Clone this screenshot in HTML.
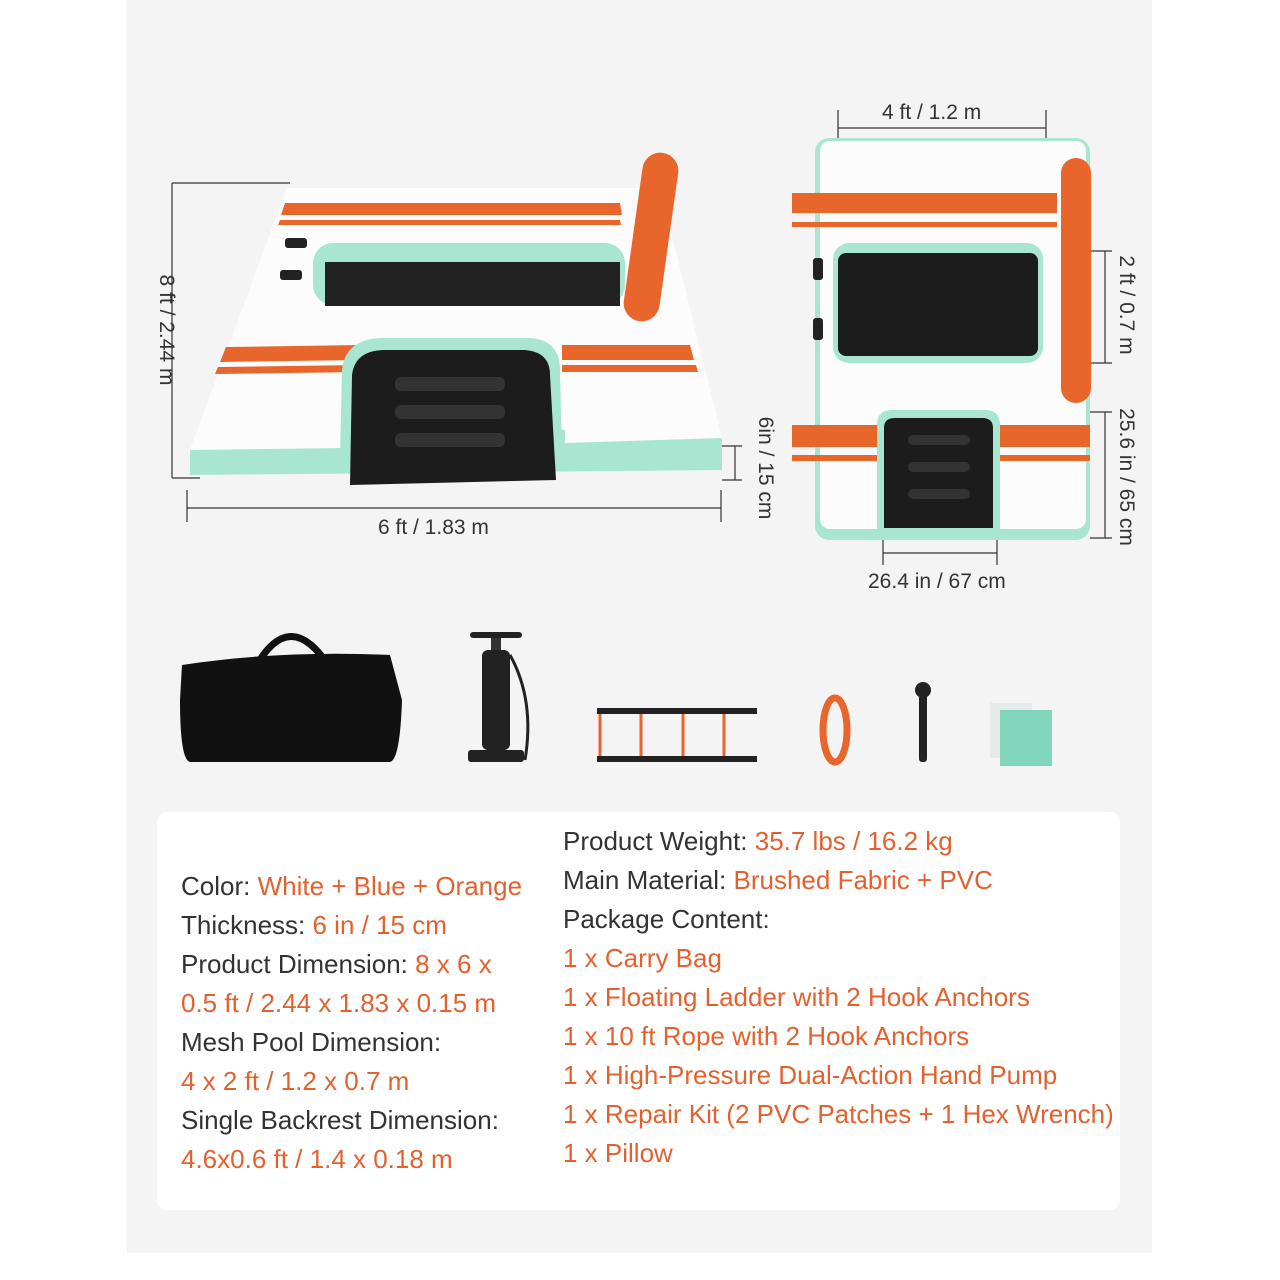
<!DOCTYPE html>
<html><head><meta charset="utf-8"><style>
body{margin:0;width:1280px;height:1280px;background:#fff;position:relative;overflow:hidden;font-family:"Liberation Sans",sans-serif}
.panel{position:absolute;left:127px;top:0;width:1025px;height:1253px;background:#f4f4f4}
svg{position:absolute;left:0;top:0}
.box{position:absolute;left:157px;top:812px;width:963px;height:398px;background:#fff;border-radius:10px}
.t{position:absolute;font-size:26px;color:#333;white-space:nowrap;letter-spacing:0;font-weight:500}
.o{color:#e2622f}
</style></head><body>
<div class="panel"></div>
<svg width="1280" height="1280" viewBox="0 0 1280 1280">
<g stroke="#333" stroke-width="1.2" fill="none">
<line x1="172" y1="183" x2="290" y2="183"/><line x1="172" y1="478" x2="200" y2="478"/>
<line x1="172" y1="183" x2="172" y2="478"/>
<line x1="187" y1="490" x2="187" y2="522"/><line x1="721" y1="490" x2="721" y2="522"/>
<line x1="187" y1="508" x2="721" y2="508"/>
<line x1="722" y1="446" x2="742" y2="446"/><line x1="722" y1="480" x2="742" y2="480"/><line x1="735" y1="446" x2="735" y2="480"/>
<line x1="838" y1="110" x2="838" y2="220"/><line x1="1046" y1="110" x2="1046" y2="220"/><line x1="838" y1="128" x2="1046" y2="128"/>
<line x1="1090" y1="251" x2="1112" y2="251"/><line x1="1090" y1="363" x2="1112" y2="363"/><line x1="1105" y1="251" x2="1105" y2="363"/>
<line x1="1090" y1="412" x2="1112" y2="412"/><line x1="1090" y1="538" x2="1112" y2="538"/><line x1="1105" y1="412" x2="1105" y2="538"/>
<line x1="883" y1="525" x2="883" y2="565"/><line x1="997" y1="525" x2="997" y2="565"/><line x1="883" y1="553" x2="997" y2="553"/>
</g>
<!-- left platform -->
<polygon points="190,452 287,190 660,190 722,440 722,470 190,475" fill="#a8e6d2"/>
<polygon points="190,450 287,188 660,188 722,438 565,443 565,430 350,430 345,448" fill="#fcfcfc"/>
<polygon points="285,203 620,203 622,215 281,215" fill="#e8652c"/>
<polygon points="280,220 620,220 621,225 278,225" fill="#e8652c"/>
<polygon points="226,347 360,345 360,360 220,362" fill="#e8652c"/>
<polygon points="218,367 360,365 360,372 215,374" fill="#e8652c"/>
<polygon points="562,345 690,345 694,360 562,360" fill="#e8652c"/>
<polygon points="562,365 696,365 698,372 562,372" fill="#e8652c"/>
<rect x="313" y="243" width="312" height="62" rx="20" fill="#a8e6d2"/>
<rect x="325" y="262" width="295" height="44" fill="#222"/>
<path d="M340,455 L342,370 Q345,340 380,338 L530,338 Q560,340 560,370 L562,455 Z" fill="#a8e6d2"/>
<path d="M350,485 L352,375 Q355,350 385,350 L525,350 Q550,352 550,375 L556,480 Z" fill="#1c1c1c"/>
<rect x="395" y="377" width="110" height="14" rx="6" fill="#333"/><rect x="395" y="405" width="110" height="14" rx="6" fill="#333"/><rect x="395" y="433" width="110" height="14" rx="6" fill="#333"/>
<rect x="633" y="152" width="36" height="170" rx="18" fill="#e8652c" transform="rotate(8 651 237)"/>
<rect x="285" y="238" width="22" height="10" rx="3" fill="#222"/><rect x="280" y="270" width="22" height="10" rx="3" fill="#222"/>
<!-- right platform -->
<rect x="815" y="138" width="275" height="402" rx="14" fill="#a8e6d2"/>
<rect x="820" y="141" width="266" height="388" rx="10" fill="#fcfcfc"/>
<rect x="792" y="193" width="265" height="20" fill="#e8652c"/><rect x="792" y="222" width="265" height="5" fill="#e8652c"/>
<rect x="833" y="243" width="210" height="120" rx="16" fill="#a8e6d2"/>
<rect x="838" y="253" width="200" height="103" rx="8" fill="#1c1c1c"/>
<rect x="792" y="425" width="88" height="22" fill="#e8652c"/><rect x="792" y="455" width="88" height="6" fill="#e8652c"/>
<rect x="1000" y="425" width="90" height="22" fill="#e8652c"/><rect x="1000" y="455" width="90" height="6" fill="#e8652c"/>
<path d="M877,530 L877,425 Q877,410 892,410 L985,410 Q1000,410 1000,425 L1000,530 Z" fill="#a8e6d2"/>
<path d="M884,528 L884,428 Q884,418 895,418 L982,418 Q993,418 993,428 L993,528 Z" fill="#1c1c1c"/>
<rect x="908" y="435" width="62" height="10" rx="5" fill="#333"/><rect x="908" y="462" width="62" height="10" rx="5" fill="#333"/><rect x="908" y="489" width="62" height="10" rx="5" fill="#333"/>
<rect x="1061" y="158" width="30" height="245" rx="15" fill="#e8652c"/>
<rect x="813" y="258" width="10" height="22" rx="3" fill="#222"/><rect x="813" y="318" width="10" height="22" rx="3" fill="#222"/>
<!-- accessories -->
<path d="M182,665 Q280,650 390,655 L402,700 Q400,760 390,762 L190,762 Q180,760 180,700 Z" fill="#111"/>
<path d="M255,668 Q290,605 330,668" stroke="#111" stroke-width="7" fill="none"/>
<rect x="470" y="632" width="52" height="6" rx="3" fill="#222"/>
<rect x="491" y="638" width="10" height="12" fill="#333"/>
<rect x="482" y="650" width="28" height="100" rx="6" fill="#222"/>
<rect x="468" y="750" width="56" height="12" rx="3" fill="#222"/>
<path d="M510,655 Q535,700 525,760" stroke="#222" stroke-width="3" fill="none"/>
<rect x="597" y="708" width="160" height="6" fill="#222"/><rect x="597" y="756" width="160" height="6" fill="#222"/>
<g stroke="#e8652c" stroke-width="3"><line x1="600" y1="714" x2="600" y2="756"/><line x1="641" y1="714" x2="641" y2="756"/><line x1="683" y1="714" x2="683" y2="756"/><line x1="724" y1="714" x2="724" y2="756"/></g>
<ellipse cx="835" cy="730" rx="12" ry="32" fill="none" stroke="#e8652c" stroke-width="7"/>
<rect x="919" y="690" width="8" height="72" rx="3" fill="#222"/><circle cx="923" cy="690" r="8" fill="#222"/>
<rect x="990" y="703" width="42" height="55" fill="#e4ebe8"/>
<rect x="1000" y="710" width="52" height="56" fill="#7fd6bb"/>
</svg>
<div class="t" style="left:882px;top:101px;font-size:21px">4 ft / 1.2 m</div>
<div class="t" style="left:378px;top:516px;font-size:21px">6 ft / 1.83 m</div>
<div class="t" style="left:868px;top:570px;font-size:21px">26.4 in / 67 cm</div>
<div class="t" style="left:166px;top:330px;font-size:21px;transform:translate(-50%,-50%) rotate(90deg);transform-origin:center">8 ft / 2.44 m</div>
<div class="t" style="left:765px;top:468px;font-size:21px;transform:translate(-50%,-50%) rotate(90deg)">6in / 15 cm</div>
<div class="t" style="left:1126px;top:305px;font-size:21px;transform:translate(-50%,-50%) rotate(90deg)">2 ft / 0.7 m</div>
<div class="t" style="left:1126px;top:477px;font-size:21px;transform:translate(-50%,-50%) rotate(90deg)">25.6 in / 65 cm</div>
<div class="box"></div>
<div class="t" style="left:181px;top:871px">Color: <span class="o">White + Blue + Orange</span></div>
<div class="t" style="left:181px;top:910px">Thickness: <span class="o">6 in / 15 cm</span></div>
<div class="t" style="left:181px;top:949px">Product Dimension: <span class="o">8 x 6 x</span></div>
<div class="t" style="left:181px;top:988px"><span class="o">0.5 ft / 2.44 x 1.83 x 0.15 m</span></div>
<div class="t" style="left:181px;top:1027px">Mesh Pool Dimension:</div>
<div class="t" style="left:181px;top:1066px"><span class="o">4 x 2 ft / 1.2 x 0.7 m</span></div>
<div class="t" style="left:181px;top:1105px">Single Backrest Dimension:</div>
<div class="t" style="left:181px;top:1144px"><span class="o">4.6x0.6 ft / 1.4 x 0.18 m</span></div>
<div class="t" style="left:563px;top:826px">Product Weight: <span class="o">35.7 lbs / 16.2 kg</span></div>
<div class="t" style="left:563px;top:865px">Main Material: <span class="o">Brushed Fabric + PVC</span></div>
<div class="t" style="left:563px;top:904px">Package Content:</div>
<div class="t o" style="left:563px;top:943px">1 x Carry Bag</div>
<div class="t o" style="left:563px;top:982px">1 x Floating Ladder with 2 Hook Anchors</div>
<div class="t o" style="left:563px;top:1021px">1 x 10 ft Rope with 2 Hook Anchors</div>
<div class="t o" style="left:563px;top:1060px">1 x High-Pressure Dual-Action Hand Pump</div>
<div class="t o" style="left:563px;top:1099px">1 x Repair Kit (2 PVC Patches + 1 Hex Wrench)</div>
<div class="t o" style="left:563px;top:1138px">1 x Pillow</div>
</body></html>
